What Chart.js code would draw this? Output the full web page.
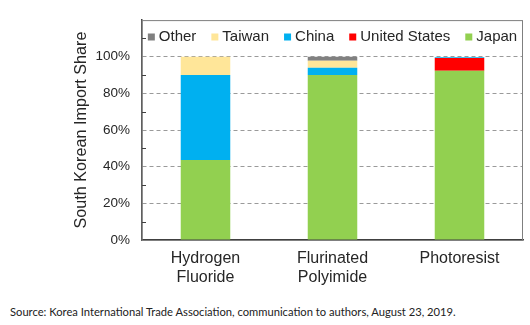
<!DOCTYPE html>
<html>
<head>
<meta charset="utf-8">
<script src="https://cdn.jsdelivr.net/npm/chart.js@4"></script>
<style>
  body { margin: 0; background: #fff; }
  .wrap { position: relative; width: 530px; height: 300px; }
  .source {
    position: absolute; left: 10px; top: 305px;
    font-family: Lato, "Open Sans", sans-serif; font-size: 11.2px; color: #222;
  }
</style>
</head>
<body>
<div class="wrap"><canvas id="importChart"></canvas></div>
<div class="source">Source: Korea International Trade Association, communication to authors, August 23, 2019.</div>
<script>
// Data (percent of South Korean imports)
const categories = [['Hydrogen', 'Fluoride'], ['Flurinated', 'Polyimide'], ['Photoresist']];
const japan = [43.6, 90.1, 92.3];
const unitedStates = [0, 0, 7.0];
const china = [46.5, 3.9, 0.4];
const taiwan = [9.9, 3.8, 0];
const other = [0, 2.2, 0];
const yTicks = [0, 20, 40, 60, 80, 100];
const minorTicks = [10, 30, 50, 70, 90, 110];

const FONT = '"Liberation Sans", Arial, sans-serif';
const TEXT = '#262626';

// frame around the plot, inner minor ticks and the legend in the top band
const framePlugin = {
  id: 'frame',
  beforeDatasetsDraw(chart) {
    const { ctx, chartArea: a } = chart;
    ctx.save();
    ctx.strokeStyle = '#7f7f7f';
    ctx.lineWidth = 1;
    ctx.strokeRect(a.left, a.top + 0.5, a.right - a.left - 0.5, a.bottom - a.top);
    ctx.restore();
  },
  afterDraw(chart) {
    const { ctx, chartArea: a, scales } = chart;
    ctx.save();
    ctx.strokeStyle = '#404040';
    ctx.lineWidth = 1;
    minorTicks.forEach((v) => {
      const y = Math.round(scales.y.getPixelForValue(v)) + 0.5;
      ctx.beginPath();
      ctx.moveTo(a.left, y);
      ctx.lineTo(a.left + 4, y);
      ctx.stroke();
    });

    // legend
    ctx.font = '15px ' + FONT;
    ctx.textBaseline = 'middle';
    const items = chart.data.datasets.slice().reverse();
    const box = 7, gapText = 4, gapItem = 15;
    let total = 0;
    items.forEach((d, i) => {
      total += box + gapText + ctx.measureText(d.label).width + (i < items.length - 1 ? gapItem : 0);
    });
    let x = (a.left + a.right) / 2 - total / 2;
    const y = 37;
    items.forEach((d) => {
      ctx.fillStyle = d.backgroundColor;
      ctx.fillRect(x, y - box / 2, box, box);
      x += box + gapText;
      ctx.fillStyle = TEXT;
      ctx.fillText(d.label, x, y);
      x += ctx.measureText(d.label).width + gapItem;
    });
    ctx.restore();
  },
};

const ctx = document.getElementById('importChart');
new Chart(ctx, {
  type: 'bar',
  data: {
    labels: categories,
    datasets: [
      { label: 'Japan', data: japan, backgroundColor: '#92D050' },
      { label: 'United States', data: unitedStates, backgroundColor: '#FF0000' },
      { label: 'China', data: china, backgroundColor: '#00B0F0' },
      { label: 'Taiwan', data: taiwan, backgroundColor: '#FFE699' },
      { label: 'Other', data: other, backgroundColor: '#808080' },
    ],
  },
  options: {
    responsive: true,
    maintainAspectRatio: false,
    animation: false,
    layout: { padding: { left: 0, right: 7, top: 18, bottom: 0 } },
    datasets: {
      bar: { barPercentage: 0.39, categoryPercentage: 1 },
    },
    plugins: {
      legend: { display: false },
      tooltip: { enabled: false },
    },
    scales: {
      x: {
        stacked: true,
        grid: { display: false, drawTicks: false },
        border: { display: true, color: '#404040', width: 1.5 },
        ticks: {
          color: TEXT,
          padding: 9,
          font: { family: FONT, size: 16 },
          maxRotation: 0,
        },
        afterFit(scale) { scale.height = 60; },
      },
      y: {
        stacked: true,
        min: 0,
        max: 120,
        afterBuildTicks(scale) {
          scale.ticks = yTicks.map((v) => ({ value: v }));
        },
        ticks: {
          color: TEXT,
          padding: 12,
          font: { family: FONT, size: 13.5 },
          callback: (v) => v + '%',
        },
        grid: {
          drawTicks: false,
          color: (c) => (c.tick && c.tick.value > 0 ? '#9a9a9a' : 'rgba(0,0,0,0)'),
          lineWidth: 1,
        },
        border: { display: true, color: '#404040', width: 1.5, dash: [4, 3] },
        title: {
          display: true,
          text: 'South Korean Import Share',
          color: TEXT,
          font: { family: FONT, size: 16.2 },
          padding: { top: 72, bottom: 0 },
        },
        afterFit(scale) { scale.width = 142; },
      },
    },
  },
  plugins: [framePlugin],
});
</script>
</body>
</html>
